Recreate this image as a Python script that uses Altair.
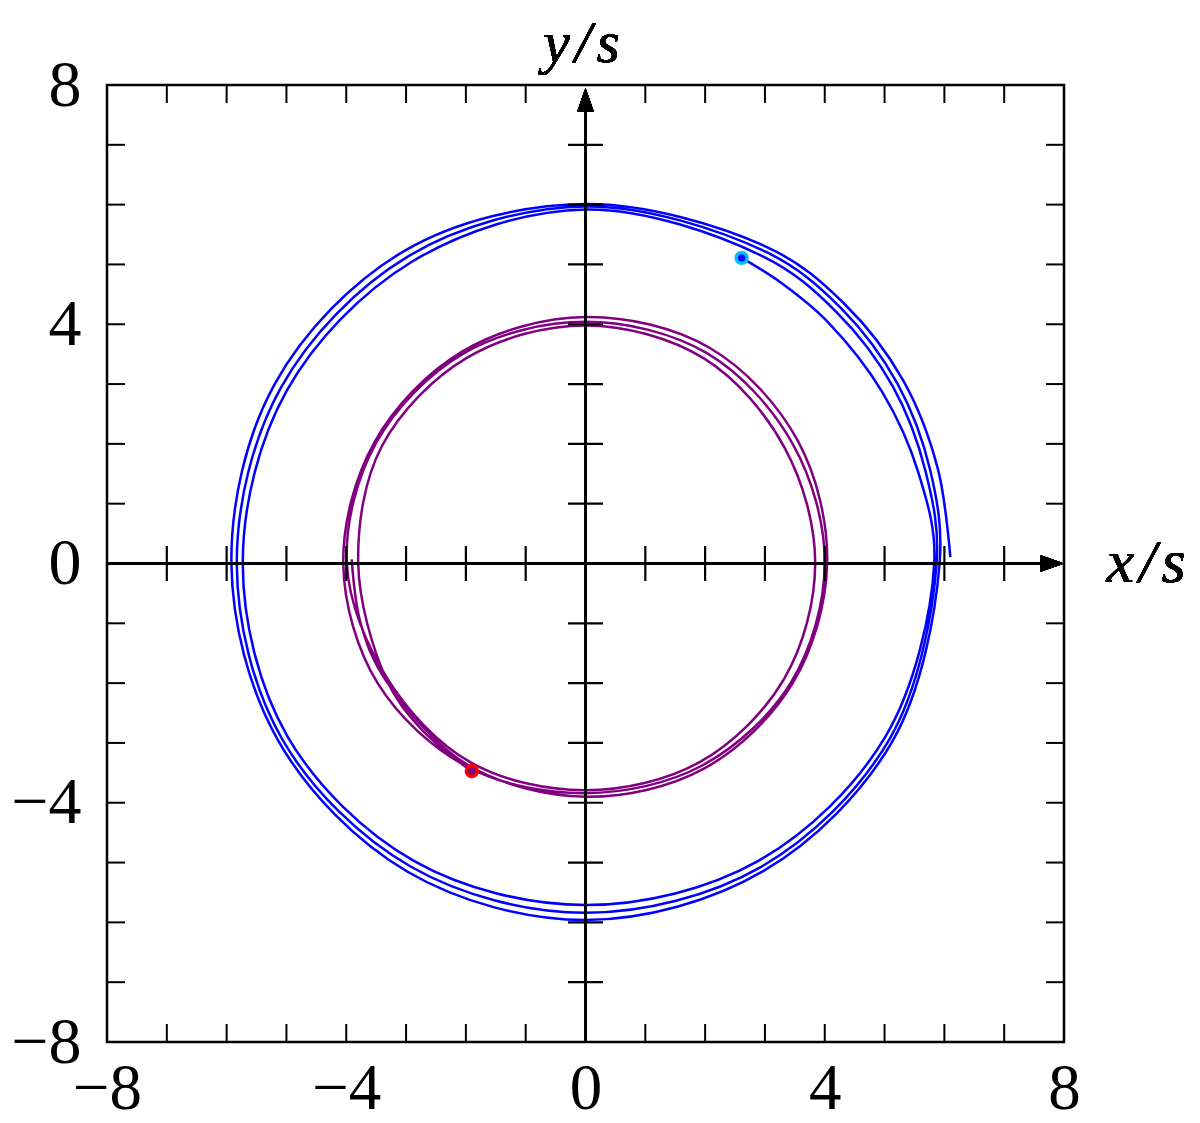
import altair as alt
import pandas as pd

# ---- data (polar: cumulative angle in degrees, radius) ----
blue_angle = [1, 15, 30, 45, 60, 90, 120, 150, 180, 210, 240, 270, 300, 330,
              360, 375, 390, 405, 420, 450, 480, 510, 540, 570, 600, 630, 660, 690,
              720, 735, 750, 765, 780, 810, 840, 870, 900, 930, 960, 990, 1020, 1050,
              1080, 1095, 1110, 1125, 1135, 1143]
blue_r = [6.10, 6.10, 6.13, 6.13, 6.10, 6.01, 6.04, 6.00, 5.92, 5.93, 5.95, 5.96, 5.94, 5.93,
          5.92, 5.97, 6.02, 6.04, 6.02, 5.97, 5.93, 5.88, 5.83, 5.86, 5.85, 5.84, 5.86, 5.87,
          5.87, 5.89, 5.93, 5.94, 5.93, 5.92, 5.82, 5.77, 5.73, 5.76, 5.74, 5.71, 5.75, 5.79,
          5.83, 5.77, 5.73, 5.72, 5.72, 5.74]

purple_angle = [179, 195, 210, 240, 270, 300, 330, 360, 390, 420, 450, 480, 510,
                540, 570, 600, 630, 660, 690, 720, 750, 780, 810, 840, 870,
                900, 930, 960, 990, 1020, 1050, 1080, 1110, 1140, 1170, 1200, 1230,
                1260, 1290, 1305, 1321]
purple_r = [3.91, 3.89, 3.87, 3.90, 3.90, 3.96, 4.00, 4.04, 4.10, 4.16, 4.12, 4.10, 4.07,
            4.05, 4.01, 3.93, 3.84, 3.90, 3.97, 4.00, 4.00, 4.06, 4.04, 4.06, 4.04,
            3.99, 3.83, 3.84, 3.79, 3.83, 3.84, 3.84, 3.85, 3.96, 3.98, 3.97, 3.93,
            3.80, 3.85, 3.90, 3.96]

end_x = [2.61, -1.90]
end_y = [5.11, -3.47]
end_name = ["blue", "purple"]

label_values = [-8, -4, 0, 4, 8]
tick_values = [-7, -6, -5, -4, -3, -2, -1, 1, 2, 3, 4, 5, 6, 7]

W = 957
H = 957
FONT = "Liberation Serif"

rows = []
for i, (a, r) in enumerate(zip(blue_angle, blue_r)):
    rows.append({"s": "blue", "i": i, "a": a, "r": r})
for i, (a, r) in enumerate(zip(purple_angle, purple_r)):
    rows.append({"s": "purple", "i": i, "a": a, "r": r})
curves = pd.DataFrame(rows)
ends = pd.DataFrame({"x": end_x, "y": end_y, "s": end_name})
ticks = pd.DataFrame({"t": tick_values})

xs = alt.Scale(domain=[-8, 8], nice=False, zero=False)
ys = alt.Scale(domain=[-8, 8], nice=False, zero=False)

ax_x = alt.Axis(values=label_values, format="~g", ticks=False, domain=False, grid=False,
                labelFont=FONT, labelFontSize=65, labelPadding=15,
                labelColor="black", labelFlush=False, labelOverlap=False, title=None)
ax_y = alt.Axis(values=label_values, format="~g", ticks=False, domain=False, grid=False,
                labelFont=FONT, labelFontSize=66, labelPadding=26,
                labelColor="black", labelFlush=False, labelOverlap=False, title=None)

color_scale = alt.Scale(domain=["blue", "purple"], range=["#0000ff", "#800080"])

lines = alt.Chart(curves).transform_calculate(
    x="datum.r * cos(datum.a * PI / 180)",
    y="datum.r * sin(datum.a * PI / 180)",
).mark_line(strokeWidth=2.5, interpolate="catmull-rom").encode(
    x=alt.X("x:Q", scale=xs, axis=ax_x),
    y=alt.Y("y:Q", scale=ys, axis=ax_y),
    color=alt.Color("s:N", scale=color_scale, legend=None),
    detail="s:N",
    order=alt.Order("i:Q"),
)

# frame ticks (inward)
t_bottom = alt.Chart(ticks).mark_rule(color="black", strokeWidth=2).encode(
    x=alt.X("t:Q", scale=xs), y=alt.value(H), y2=alt.value(H - 18))
t_top = alt.Chart(ticks).mark_rule(color="black", strokeWidth=2).encode(
    x=alt.X("t:Q", scale=xs), y=alt.value(0), y2=alt.value(18))
t_left = alt.Chart(ticks).mark_rule(color="black", strokeWidth=2).encode(
    y=alt.Y("t:Q", scale=ys), x=alt.value(0), x2=alt.value(18))
t_right = alt.Chart(ticks).mark_rule(color="black", strokeWidth=2).encode(
    y=alt.Y("t:Q", scale=ys), x=alt.value(W), x2=alt.value(W - 18))

# central axes
x_axis_line = alt.Chart(ticks).mark_rule(color="black", strokeWidth=2.5).encode(
    y=alt.datum(0, scale=ys), x=alt.value(0), x2=alt.value(W - 14))
y_axis_line = alt.Chart(ticks).mark_rule(color="black", strokeWidth=2.5).encode(
    x=alt.datum(0, scale=xs), y=alt.value(H), y2=alt.value(14))
x_axis_ticks = alt.Chart(ticks).mark_tick(color="black", orient="vertical",
                                          size=35, thickness=2.2, opacity=1).encode(
    x=alt.X("t:Q", scale=xs), y=alt.datum(0, scale=ys))
y_axis_ticks = alt.Chart(ticks).mark_tick(color="black", orient="horizontal",
                                          size=35, thickness=2.2, opacity=1).encode(
    y=alt.Y("t:Q", scale=ys), x=alt.datum(0, scale=xs))

arrow_right = alt.Chart(ticks).mark_point(
    shape="M-1,-0.7L1,0L-1,0.7Z", size=576, filled=True, color="black", opacity=1
).encode(x=alt.value(W - 12), y=alt.datum(0, scale=ys))
arrow_up = alt.Chart(ticks).mark_point(
    shape="M-0.7,1L0,-1L0.7,1Z", size=576, filled=True, color="black", opacity=1
).encode(x=alt.datum(0, scale=xs), y=alt.value(15))

dots = alt.Chart(ends).mark_point(filled=True, size=120, strokeWidth=3.5, opacity=1).encode(
    x=alt.X("x:Q", scale=xs),
    y=alt.Y("y:Q", scale=ys),
    fill=alt.Fill("s:N", scale=color_scale, legend=None),
    stroke=alt.Stroke("s:N", scale=alt.Scale(domain=["blue", "purple"],
                                             range=["#00bfff", "#ff0000"]), legend=None),
)

ylab = alt.Chart(ticks).mark_text(text="y\u200a/\u200as", font=FONT, fontStyle="italic",
                                  fontSize=60, color="black", align="center",
                                  baseline="alphabetic").encode(
    x=alt.value(W / 2 - 4), y=alt.value(-23))
xlab = alt.Chart(ticks).mark_text(text="x\u200a/\u200as", font=FONT, fontStyle="italic",
                                  fontSize=62, color="black", align="center",
                                  baseline="middle").encode(
    x=alt.value(1039), y=alt.value(478))

chart = alt.layer(
    lines, t_bottom, t_top, t_left, t_right,
    x_axis_line, y_axis_line, x_axis_ticks, y_axis_ticks,
    arrow_right, arrow_up, dots, ylab, xlab,
).properties(
    width=W, height=H,
    autosize=alt.AutoSizeParams(type="none"),
    padding={"left": 99, "top": 77, "right": 128, "bottom": 80},
).configure_view(stroke="black", strokeWidth=2.5)

chart.save("out.html", embed_options={"renderer": "svg", "actions": False})
